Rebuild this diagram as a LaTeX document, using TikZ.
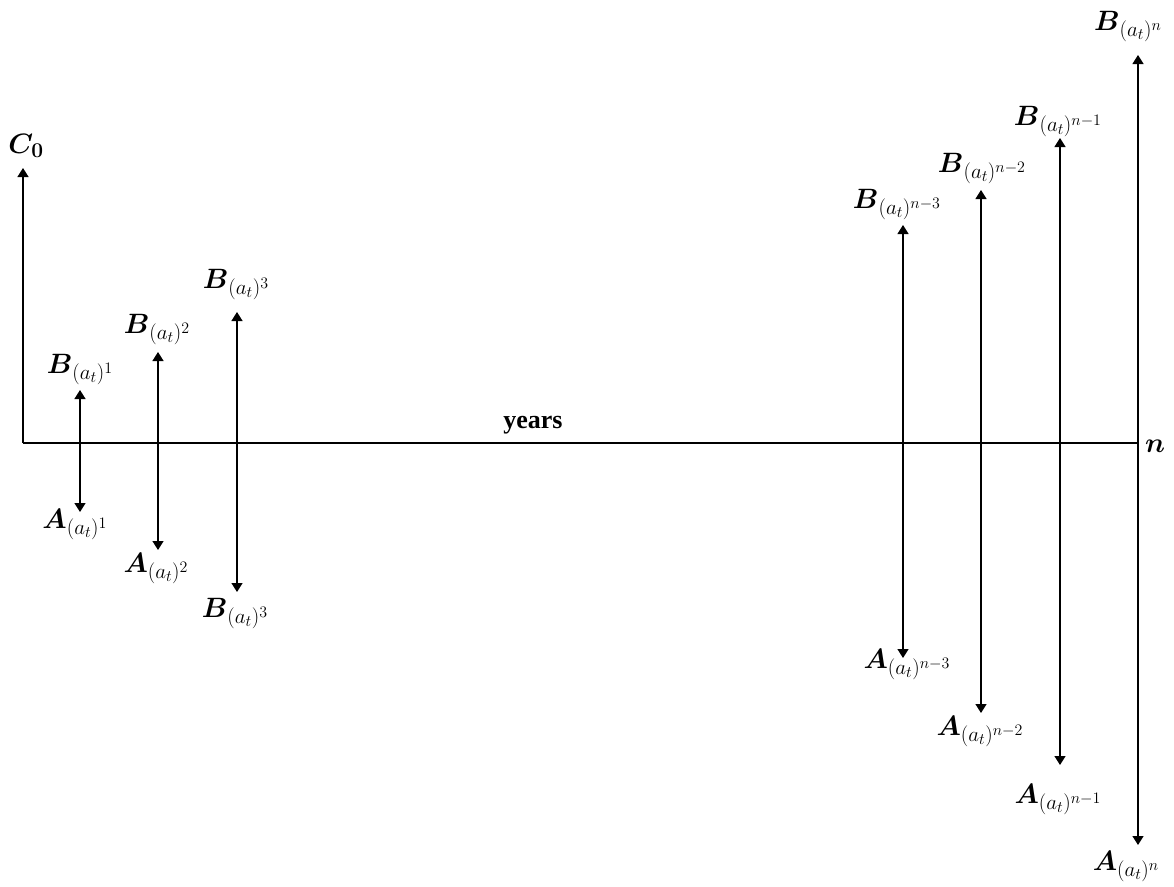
\RequirePackage{fix-cm}
\documentclass[tikz,border=0pt]{standalone}
\usepackage{amsmath}
\usepackage{fontspec}
\setmainfont{Liberation Serif}
\DeclareMathSizes{28}{28}{21}{16}
\usetikzlibrary{arrows.meta}
\tikzset{
  axisline/.style={line width=1.3pt},
  cash/.style={line width=1.3pt, {Triangle[length=9pt,width=11pt]}-{Triangle[length=9pt,width=11pt]}},
  up/.style={line width=1.3pt, -{Triangle[length=9pt,width=11pt]}},
  lbl/.style={anchor=base, inner sep=0pt, font=\fontsize{28}{32}\selectfont},
  yr/.style={anchor=base, inner sep=0pt, font=\fontsize{26}{30}\selectfont\bfseries}
}
\begin{document}
\begin{tikzpicture}[x=1pt,y=-1pt]
\useasboundingbox (0,0) rectangle (1174,886);
% coordinates
\coordinate (o) at (23,443);
\coordinate (end) at (1138,443);
\coordinate (c0t) at (23,168);
\coordinate (b1t) at (80,390);  \coordinate (a1b) at (80,512);
\coordinate (b2t) at (158,352); \coordinate (a2b) at (158,550);
\coordinate (b3t) at (237,312); \coordinate (a3b) at (237,592);
\coordinate (bn3t) at (903,225); \coordinate (an3b) at (903,658);
\coordinate (bn2t) at (981,190); \coordinate (an2b) at (981,713);
\coordinate (bn1t) at (1060,138); \coordinate (an1b) at (1060,765);
\coordinate (bnt) at (1138,55); \coordinate (anb) at (1138,845);
% axis
\draw[axisline] (o) -- (end);
\draw[up] (o) -- (c0t);
% cash flows
\draw[cash] (b1t) -- (a1b);
\draw[cash] (b2t) -- (a2b);
\draw[cash] (b3t) -- (a3b);
\draw[cash] (bn3t) -- (an3b);
\draw[cash] (bn2t) -- (an2b);
\draw[cash] (bn1t) -- (an1b);
\draw[cash] (bnt) -- (anb);
% labels
\node[lbl] (lc0) at (26,153) {$\boldsymbol{C_0}$};
\node[lbl] (lb1) at (80,373) {$\boldsymbol{B}_{(a_t)^1}$};
\node[lbl] (la1) at (75,528) {$\boldsymbol{A}_{(a_t)^1}$};
\node[lbl] (lb2) at (157,333) {$\boldsymbol{B}_{(a_t)^2}$};
\node[lbl] (la2) at (156,572) {$\boldsymbol{A}_{(a_t)^2}$};
\node[lbl] (lb3) at (236,288) {$\boldsymbol{B}_{(a_t)^3}$};
\node[lbl] (lb3b) at (235,617) {$\boldsymbol{B}_{(a_t)^3}$};
\node[lbl] (lbn3) at (897,208) {$\boldsymbol{B}_{(a_t)^{n-3}}$};
\node[lbl] (lan3) at (907,668) {$\boldsymbol{A}_{(a_t)^{n-3}}$};
\node[lbl] (lbn2) at (982,172) {$\boldsymbol{B}_{(a_t)^{n-2}}$};
\node[lbl] (lan2) at (980,735) {$\boldsymbol{A}_{(a_t)^{n-2}}$};
\node[lbl] (lbn1) at (1058,125) {$\boldsymbol{B}_{(a_t)^{n-1}}$};
\node[lbl] (lan1) at (1058,803) {$\boldsymbol{A}_{(a_t)^{n-1}}$};
\node[lbl] (lbn) at (1128,30) {$\boldsymbol{B}_{(a_t)^{n}}$};
\node[lbl] (lan) at (1126,870) {$\boldsymbol{A}_{(a_t)^{n}}$};
\node[lbl] (ln) at (1155,452) {$\boldsymbol{n}$};
\node[yr] (years) at (533,428) {years};
\end{tikzpicture}
\end{document}
